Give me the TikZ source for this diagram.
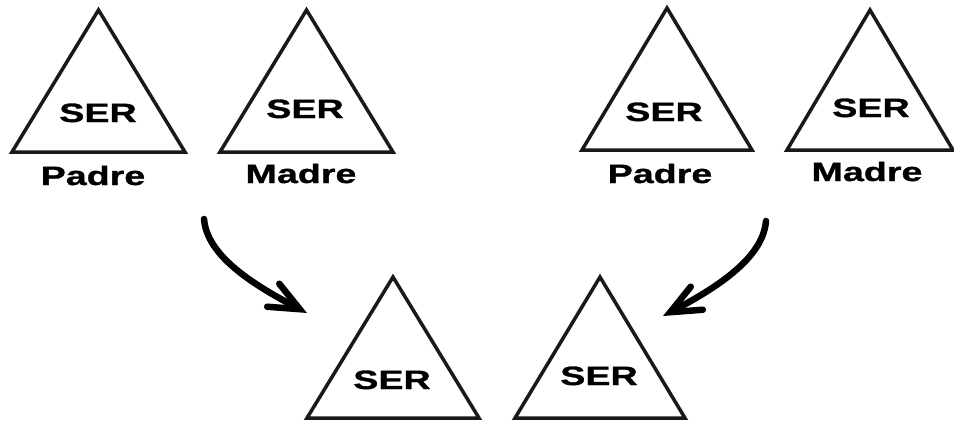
\documentclass[tikz,border=0pt]{standalone}
\usepackage{fontspec}
\newfontfamily\serfont[FakeStretch=1.42,FakeBold=1.2]{Liberation Sans}
\usetikzlibrary{arrows.meta}
\newcommand{\sertri}[4]{ \draw[tri] ( #1 , #3 ) -- ( #1 * 0.5 + #2 * 0.5 , #4 ) -- ( #2 , #3 ) -- cycle;}
\tikzset{
  tri/.style={line width=3.5pt, line join=miter, draw=black!90},
  ser/.style={anchor=base, inner sep=0pt, font=\serfont\bfseries\fontsize{26.5}{30}\selectfont},
  kin/.style={ser},
  link/.style={line width=6.5pt, line cap=round, -{Straight Barb[length=30pt,width=26pt,line cap=round]}}
}

\begin{document}
\begin{tikzpicture}[x=1pt,y=-1pt]
        \useasboundingbox (0,0) rectangle (954,424);

        % left couple
        \sertri{12}{185}{152}{10}
        \sertri{220}{393}{152}{10}

        \node[ser] (ser1) at (98,122) {SER};
        \node[ser] (ser2) at (305,118) {SER};
        \node[kin] (padre1) at (93,185) {Padre};
        \node[kin] (madre1) at (301,183) {Madre};

        % right couple
        \sertri{582}{752}{150}{8}
        \sertri{787}{953}{150}{10}

        \node[ser] (ser3) at (664,121) {SER};
        \node[ser] (ser4) at (871,117) {SER};
        \node[kin] (padre2) at (660,183) {Padre};
        \node[kin] (madre2) at (867,181) {Madre};

        % children
        \sertri{307}{479}{418}{277}
        \sertri{515}{685}{418}{277}

        \node[ser] (ser5) at (392,389) {SER};
        \node[ser] (ser6) at (599,385) {SER};

        % arrows
        \coordinate (from1) at (204,219);
        \coordinate (to1) at (307,313);
        \coordinate (from2) at (766,221);
        \coordinate (to2) at (663,316);

        \draw[link] (from1) .. controls (207,255) and (250,283) .. (to1);
        \draw[link] (from2) .. controls (763,257) and (720,286) .. (to2);

\end{tikzpicture}
\end{document}
